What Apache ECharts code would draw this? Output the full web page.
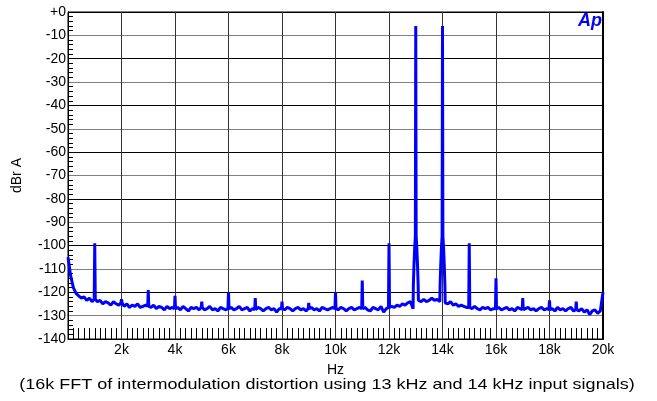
<!DOCTYPE html>
<html>
<head>
<meta charset="utf-8">
<script src="https://cdn.jsdelivr.net/npm/echarts@6/dist/echarts.min.js"></script>
<style>
  html, body { margin: 0; padding: 0; background: #fff; }
  #chart { width: 657px; height: 401px; }
</style>
</head>
<body>
<div id="chart"></div>
<script>
// noise floor, one value per 100 Hz bin from 0 Hz to 20 kHz (rows = 1 kHz)
const binHz = 100;
const noiseDb = [
  -105, -113, -118, -120.5, -121.5, -122.5, -122, -123.5, -122.5, -124,
  -123, -124, -123.5, -125, -124, -124.5, -125.5, -124, -125, -125.5,
  -124.5, -126, -125, -126.5, -125.5, -126, -125, -126.5, -126, -125.5,
  -126, -126.5, -125.5, -127, -126, -126.5, -127.5, -126, -127, -126.5,
  -127, -126.5, -127.5, -126, -127, -128, -126.5, -127, -126.5, -127.5,
  -126.5, -127.5, -127, -126, -127.5, -127, -128, -126.5, -127, -127.5,
  -127, -126.5, -127.5, -127, -126, -127.5, -127, -126.5, -128, -127,
  -127.5, -126.5, -127, -128, -127, -126.5, -127.5, -127, -128.5, -127,
  -127, -127.5, -126.5, -127, -128, -127, -126.5, -127.5, -127, -128,
  -127, -126.5, -127.5, -127, -128, -126.5, -127, -127.5, -127, -126.5,
  -127, -127.5, -126.5, -127, -128, -127, -126.5, -127.5, -127, -126.5,
  -127, -126.5, -127.5, -128, -126.5, -127, -127.5, -126, -128.5, -127,
  -126.5, -126, -126.5, -125.5, -126, -125, -125.5, -124.5, -124, -127,
  -124, -123.5, -124, -123, -124, -123.5, -122.5, -123.5, -123, -124,
  -124, -124.5, -125, -124, -125.5, -125, -126, -125.5, -126, -126.5,
  -126.5, -127, -126, -127, -127.5, -126.5, -127, -126.5, -127.5, -127,
  -127, -126.5, -127.5, -127, -126.5, -127.5, -127, -128, -126.5, -127,
  -127.5, -127, -126.5, -127.5, -127, -128, -127, -126.5, -127.5, -127,
  -127.5, -127, -128, -126.5, -127.5, -127, -128, -127, -126.5, -128,
  -127.5, -128, -127, -128.5, -127.5, -129.5, -128, -127.5, -129, -128,
  -120
];

// distortion products
const spikeHz = [1000, 2000, 3000, 4000, 5000, 6000, 7000, 8000, 9000, 10000, 11000, 12000, 15000, 16000, 17000, 18000, 19000];
const spikeDb = [-99, -123, -119, -121.5, -124, -120, -122.5, -124, -124.5, -120, -115, -99, -99, -114, -122.5, -123.5, -124];

// the two test tones and their skirts
const toneHz = [13000, 14000];
const toneOffsetHz = [-90, -65, -40, -15, 0, 15, 40, 65, 90];
const toneSkirtDb = [-117, -108, -101, -96, -6, -96, -101, -108, -117];

const xTicksHz = [2000, 4000, 6000, 8000, 10000, 12000, 14000, 16000, 18000, 20000];

const data = [];
noiseDb.forEach((db, i) => {
  const hz = i * binHz;
  const s = spikeHz.indexOf(hz);
  const t = toneHz.indexOf(hz);
  if (s >= 0) {
    data.push([hz - 20, db], [hz, spikeDb[s]], [hz + 20, db]);
  } else if (t >= 0) {
    toneOffsetHz.forEach((o, k) => data.push([hz + o, toneSkirtDb[k]]));
  } else {
    data.push([hz, db]);
  }
});

const font = 'Liberation Sans, Arial, sans-serif';
const chart = echarts.init(document.getElementById('chart'));
chart.setOption({
  animation: false,
  grid: {
    left: 68, right: 54, top: 12, bottom: 62,
    show: true, borderColor: '#000', borderWidth: 1,
  },
  xAxis: {
    type: 'value',
    min: 0,
    max: 20000,
    interval: 2000,
    name: 'Hz',
    nameLocation: 'middle',
    nameGap: 24,
    nameTextStyle: { fontFamily: font, fontSize: 14, color: '#000' },
    axisLine: { show: true, onZero: false, lineStyle: { color: '#000', width: 1 } },
    axisTick: { show: false, inside: true },
    minorTick: { show: true, splitNumber: 10, length: 11, lineStyle: { color: '#000', width: 1 } },
    axisLabel: {
      fontFamily: font, fontSize: 14, color: '#000', margin: 4,
      formatter: (v) => (xTicksHz.includes(v) ? `${v / 1000}k` : ''),
    },
    splitLine: { show: true, lineStyle: { color: '#333', width: 1 } },
  },
  yAxis: [
    {
      type: 'value',
      min: -140,
      max: 0,
      interval: 10,
      name: 'dBr A',
      nameLocation: 'middle',
      nameGap: 44,
      nameTextStyle: { fontFamily: font, fontSize: 14, color: '#000' },
      axisLine: { show: true, onZero: false, lineStyle: { color: '#000', width: 1 } },
      axisTick: { show: false, inside: true },
      minorTick: { show: true, splitNumber: 5, length: 5, lineStyle: { color: '#000', width: 1 } },
      axisLabel: {
        fontFamily: font, fontSize: 14, color: '#000', margin: 2,
        formatter: (v) => (v === 0 ? '+0' : String(v)),
      },
      splitLine: { show: true, lineStyle: { color: ['#000', '#808080'], width: 1 } },
    },
    {
      type: 'value',
      position: 'right',
      min: -140,
      max: 0,
      interval: 10,
      axisLine: { show: true, onZero: false, lineStyle: { color: '#000', width: 2 } },
      axisTick: { show: false },
      axisLabel: { show: false },
      splitLine: { show: false },
    },
  ],
  series: [{
    type: 'line',
    data: data,
    showSymbol: false,
    lineStyle: { color: '#0000ff', width: 3 },
    z: 5,
  }],
  graphic: [
    {
      type: 'text', right: 55, top: 12, z: 10,
      style: { text: 'Ap', fill: '#0000ff', font: 'italic bold 18px Liberation Sans, Arial, sans-serif' },
    },
    {
      type: 'text', x: 327, y: 385, scaleX: 1.2,
      style: {
        text: '(16k FFT of intermodulation distortion using 13 kHz and 14 kHz input signals)',
        fill: '#000', font: '15px Liberation Sans, Arial, sans-serif',
        align: 'center', verticalAlign: 'middle',
      },
    },
  ],
});
</script>
</body>
</html>
